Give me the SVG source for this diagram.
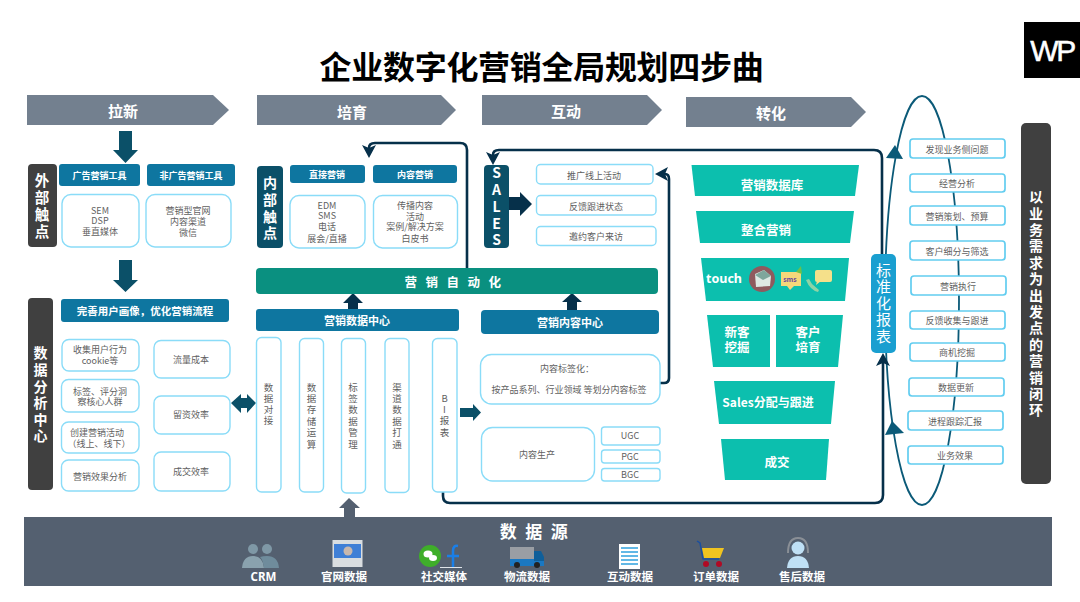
<svg xmlns="http://www.w3.org/2000/svg" width="1080" height="602" viewBox="0 0 1080 602">
<style>
text{font-family:"Noto Sans CJK SC","Noto Sans",sans-serif;text-anchor:middle;dominant-baseline:central}
.v{writing-mode:vertical-rl;text-orientation:upright}
.t{font-size:9px;fill:#5f5f5f}
.tv{font-size:9.5px;fill:#5f5f5f}
.w{fill:#fff;font-weight:700}
.hd{font-size:9px}
.box{fill:#fff;stroke:#8adcf8;stroke-width:1.4}
.lst{fill:#fff;stroke:#62cdf0;stroke-width:1.7}
.bl{fill:#0e76a0}
.gr{fill:#404040}
.nv{fill:#0b5068}
.fn{fill:#0cbfae}
.chev{fill:#73808f}
.ft{font-size:12.5px}
.ds{font-size:11.5px}
.conn{fill:none;stroke:#06304a;stroke-width:2.6}
.loop{fill:none;stroke:#0b5a78;stroke-width:1.8}
</style>
<defs>
<marker id="ah" markerUnits="userSpaceOnUse" markerWidth="18" markerHeight="18" refX="3" refY="7" orient="auto">
<path d="M0,0 L13,7 L0,14 L3,7 z" fill="#06304a"/>
</marker>
</defs>

<text id="title" x="541.5" y="65" font-size="32" font-weight="700" fill="#000" letter-spacing="-0.3">企业数字化营销全局规划四步曲</text>
<g id="logo"><rect x="1024" y="22" width="56" height="56" fill="#000"/><text x="1052" y="50" font-size="30" fill="#fff" stroke="#fff" stroke-width="0.5" style="font-family:'Liberation Sans',sans-serif" letter-spacing="-2.5">WP</text></g>

<g id="stage-laxin"><polygon class="chev" points="27,95 213,95 229,110 213,125 27,125"/><text class="w" x="123" y="110" font-size="15">拉新</text></g>
<g id="stage-peiyu"><polygon class="chev" points="257,95 441,95 456,110 441,125 257,125"/><text class="w" x="352" y="111" font-size="15">培育</text></g>
<g id="stage-hudong"><polygon class="chev" points="482,95 647,95 662,110 647,125 482,125"/><text class="w" x="566" y="110" font-size="15">互动</text></g>
<g id="stage-zhuanhua"><polygon class="chev" points="686,97 851,97 866,112 851,127 686,127"/><text class="w" x="771" y="112" font-size="15">转化</text></g>

<g id="connectors">
<ellipse class="loop" cx="922" cy="300.500" rx="37" ry="204.500"/>
<polygon points="895,145 903,159 886,158" fill="#0b5a78"/>
<polygon points="892,421 904,433 885,435" fill="#0b5a78"/>
<path class="conn" d="M467,268 V150 Q467,143 460,143 H375 Q369,143 369,148" marker-end="url(#ah)"/>
<path class="conn" d="M882,255 V158 Q882,150 874,150 H499 Q493,150 493,155" marker-end="url(#ah)"/>
<path class="conn" d="M660,383 H664 Q669,383 669,378 V179 Q669,174 665,174" marker-end="url(#ah)"/>
<path class="conn" d="M443,492 V496 Q443,503 450,503 H875 Q883,503 883,495 V363" marker-end="url(#ah)"/>
<polygon class="nv" points="119,131 132,131 132,150 138,150 125.500,163 113,150 119,150"/>
<polygon class="nv" points="119,260 132,260 132,280 138,280 125.500,292 113,280 119,280"/>
<polygon class="nv" points="231,403 241,394 241,398 247,398 247,394 256,403 247,413 247,408 241,408 241,413"/>
<polygon class="nv" points="460,408 473,408 473,404 481,412.500 473,421 473,417 460,417"/>
<polygon fill="#06304a" points="509,197 520,197 520,192 532,204 520,216 520,210 509,210"/>
<polygon fill="#06304a" points="348,309 348,303 343,303 353,293 363,303 358,303 358,309"/>
<polygon fill="#06304a" points="567,310 567,302 562,302 572,293 582,302 577,302 577,310"/>
<polygon fill="#546070" points="344,517 344,508 339,508 349,498 360,508 355,508 355,517"/>
</g>

<g id="outer"><rect class="gr" x="28" y="164" width="29" height="83" rx="4"/><text class="w v" font-size="14.500" letter-spacing="2.500" x="42" y="206.750">外部触点</text></g>
<g id="ad-tools"><rect class="bl" x="59" y="164" width="81" height="22" rx="3"/><text class="w hd" x="99.500" y="175">广告营销工具</text></g>
<g id="nonad-tools"><rect class="bl" x="147" y="164" width="88" height="22" rx="3"/><text class="w hd" x="191" y="175">非广告营销工具</text></g>
<g id="ad-list"><rect class="box" x="62" y="194.500" width="77" height="52.500" rx="9"/><text class="t"><tspan x="100" y="209.500">SEM</tspan><tspan x="100" y="220">DSP</tspan><tspan x="100" y="231">垂直媒体</tspan></text></g>
<g id="nonad-list"><rect class="box" x="146" y="194.500" width="85" height="52.500" rx="9"/><text class="t"><tspan x="188" y="210">营销型官网</tspan><tspan x="188" y="220.500">内容渠道</tspan><tspan x="188" y="231.500">微信</tspan></text></g>

<g id="data-center"><rect class="gr" x="28" y="298" width="25" height="192" rx="4"/><text class="w v" font-size="14" letter-spacing="2.600" x="40.500" y="395.800">数据分析中心</text></g>
<g id="portrait"><rect class="bl" x="61" y="299" width="168" height="23" rx="3"/><text class="w" font-size="10.500" x="145" y="310">完善用户画像，优化营销流程</text></g>
<g id="b-collect"><rect class="box" x="62" y="339.500" width="77" height="31.500" rx="7"/><text class="t"><tspan x="100" y="349">收集用户行为</tspan><tspan x="100" y="359.500">cookie等</tspan></text></g>
<g id="b-tag"><rect class="box" x="61.500" y="379.500" width="77.500" height="32.500" rx="7"/><text class="t"><tspan x="100" y="390.500">标签、评分洞</tspan><tspan x="100" y="401">察核心人群</tspan></text></g>
<g id="b-create"><rect class="box" x="61.500" y="422" width="77.500" height="31" rx="7"/><text class="t"><tspan x="97" y="432">创建营销活动</tspan><tspan x="99" y="442.500">（线上、线下）</tspan></text></g>
<g id="b-effect"><rect class="box" x="61.500" y="460" width="77.500" height="31" rx="7"/><text class="t" x="100" y="476">营销效果分析</text></g>
<g id="b-traffic"><rect class="box" x="154" y="340.500" width="76" height="37.500" rx="7"/><text class="t" x="191" y="359">流量成本</text></g>
<g id="b-lead"><rect class="box" x="154" y="396" width="76" height="38" rx="7"/><text class="t" x="191" y="414.500">留资效率</text></g>
<g id="b-deal"><rect class="box" x="154" y="452" width="76" height="39" rx="7"/><text class="t" x="191" y="471">成交效率</text></g>

<g id="inner"><rect class="nv" x="257" y="166" width="26" height="82" rx="4"/><text class="w v" font-size="14" letter-spacing="2.670" x="270" y="209.300">内部触点</text></g>
<g id="direct"><rect class="bl" x="290" y="165" width="75" height="18" rx="3"/><text class="w hd" x="327" y="174.500">直接营销</text></g>
<g id="content"><rect class="bl" x="373" y="165" width="84" height="18" rx="3"/><text class="w hd" x="415" y="174.500">内容营销</text></g>
<g id="direct-list"><rect class="box" x="290" y="195.500" width="75" height="52.500" rx="9"/><text class="t"><tspan x="327" y="204.500">EDM</tspan><tspan x="327" y="215">SMS</tspan><tspan x="327" y="226">电话</tspan><tspan x="327" y="238">展会/直播</tspan></text></g>
<g id="content-list"><rect class="box" x="373.500" y="195.500" width="84" height="52.500" rx="9"/><text class="t"><tspan x="415" y="205">传播内容</tspan><tspan x="415" y="216">活动</tspan><tspan x="415" y="226">案例/解决方案</tspan><tspan x="415" y="238">白皮书</tspan></text></g>
<g id="automation"><rect x="256" y="268" width="402" height="26" rx="4" fill="#0a9080"/><text class="w" font-size="12.500" x="457" y="281" letter-spacing="8.500">营销自动化</text></g>
<g id="data-hub"><rect class="bl" x="256" y="309" width="203" height="22" rx="3"/><text class="w" font-size="11" x="357" y="320">营销数据中心</text></g>
<g id="content-hub"><rect class="bl" x="481" y="310" width="178" height="24" rx="4"/><text class="w" font-size="11" x="570" y="322">营销内容中心</text></g>

<g id="col1"><rect class="box" x="256.500" y="337.500" width="24.500" height="154.500" rx="5"/><text class="tv v" letter-spacing="1.500" x="268.500" y="404.250">数据对接</text></g>
<g id="col2"><rect class="box" x="299.500" y="338.500" width="24" height="153.500" rx="5"/><text class="tv v" letter-spacing="1.900" x="311.500" y="416.500">数据存储运算</text></g>
<g id="col3"><rect class="box" x="341.500" y="338.500" width="24" height="154.500" rx="5"/><text class="tv v" letter-spacing="1.900" x="353" y="416.500">标签数据管理</text></g>
<g id="col4"><rect class="box" x="385" y="338.500" width="24" height="154" rx="5"/><text class="tv v" letter-spacing="1.900" x="397" y="416.500">渠道数据打通</text></g>
<g id="col5"><rect class="box" x="432.500" y="338.500" width="24.500" height="153.500" rx="5"/><text class="tv v" letter-spacing="1.800" x="444.500" y="416">BI报表</text></g>

<g id="sales"><rect class="nv" x="484" y="165" width="25" height="83" rx="4"/><text class="w v" font-size="14" letter-spacing="2.750" x="496.500" y="207.900">SALES</text></g>
<g id="s1"><rect class="box" x="536.500" y="164.500" width="116.500" height="19.500" rx="4"/><text class="t" x="594" y="175">推广线上活动</text></g>
<g id="s2"><rect class="box" x="536.500" y="195.500" width="119.500" height="19.500" rx="4"/><text class="t" x="596" y="206">反馈跟进状态</text></g>
<g id="s3"><rect class="box" x="536.500" y="226.500" width="119.500" height="19" rx="4"/><text class="t" x="596" y="236">邀约客户来访</text></g>
<g id="tagging"><rect class="box" x="480.500" y="354.500" width="179.500" height="49.500" rx="11"/><text class="t"><tspan x="567" y="368">内容标签化：</tspan><tspan x="569" y="389">按产品系列、行业领域 等划分内容标签</tspan></text></g>
<g id="production"><rect class="box" x="481.500" y="427.500" width="113" height="53.500" rx="11"/><text class="t" x="537" y="454">内容生产</text></g>
<g id="ugc"><rect class="box" x="601.500" y="427" width="58.500" height="18" rx="3"/><text class="t" x="630" y="435.500">UGC</text></g>
<g id="pgc"><rect class="box" x="601.500" y="450" width="58.500" height="13" rx="3"/><text class="t" x="630" y="456">PGC</text></g>
<g id="bgc"><rect class="box" x="601.500" y="468.500" width="58.500" height="12.500" rx="3"/><text class="t" x="630" y="474.500">BGC</text></g>

<g id="f1"><polygon class="fn" points="691.500,165 859,165 855,196 695,196"/><text class="w ft" x="772" y="184">营销数据库</text></g>
<g id="f2"><polygon class="fn" points="696,211 854,211 850,243 700,243"/><text class="w ft" x="766" y="229">整合营销</text></g>
<g id="f3"><polygon class="fn" points="701,258 849,258 845,301 706,301"/><text class="w" font-size="12.500" x="724" y="278" style="font-family:'Noto Sans',sans-serif">touch</text>
<circle cx="762" cy="279" r="13" fill="#8f5a5e"/><polygon points="755,274 764,270 771,276 770,286 756,287" fill="#dfe9e4"/><polygon points="755,275 763,280 771,276 764,270" fill="#7fa69c"/>
<path d="M781,272 H801 V286 H794 L790,290 L787,286 H781 z" fill="#f5d77a"/><polygon points="796,272 801,266 802,274" fill="#6cc04a"/><text x="790" y="279" font-size="7" font-weight="700" fill="#6b4a9a">sms</text>
<path d="M806,280 L809,279 L812,284 L819,290 L818,292 Q810,290 806,280 z" fill="#8fd3a5"/><rect x="815" y="270" width="17" height="12" rx="2" fill="#f5e08a"/><polygon points="817,281 821,281 816,285" fill="#f5e08a"/></g>
<g id="f4a"><polygon class="fn" points="707,315 770,315 770,367 713,367"/><text class="w ft"><tspan x="737" y="331">新客</tspan><tspan x="737" y="346">挖掘</tspan></text></g>
<g id="f4b"><polygon class="fn" points="776,315 843,315 838,367 776,367"/><text class="w ft"><tspan x="808" y="331">客户</tspan><tspan x="808" y="346">培育</tspan></text></g>
<g id="f5"><polygon class="fn" points="714,381 835,381 831,424 719,424"/><text class="w" font-size="12" x="768" y="401">Sales分配与跟进</text></g>
<g id="f6"><polygon class="fn" points="721,439 829,439 826,480 725,480"/><text class="w ft" x="777" y="461">成交</text></g>

<g id="report"><rect x="871" y="254" width="25" height="99" rx="5" fill="#1a9fd0"/><text class="v" font-size="15" fill="#fff" letter-spacing="1.500" x="883.500" y="303.750">标准化报表</text></g>

<g id="l1"><rect class="lst" x="910" y="139" width="95" height="19" rx="3"/><text class="t" x="957" y="149">发现业务侧问题</text></g>
<g id="l2"><rect class="lst" x="910" y="174" width="95" height="18" rx="3"/><text class="t" x="957" y="183.500">经营分析</text></g>
<g id="l3"><rect class="lst" x="910" y="206" width="95" height="19" rx="3"/><text class="t" x="957" y="216">营销策划、预算</text></g>
<g id="l4"><rect class="lst" x="910" y="241" width="95" height="19" rx="3"/><text class="t" x="957" y="251">客户细分与筛选</text></g>
<g id="l5"><rect class="lst" x="911" y="276" width="95" height="19" rx="3"/><text class="t" x="958" y="286">营销执行</text></g>
<g id="l6"><rect class="lst" x="910" y="311" width="95" height="18" rx="3"/><text class="t" x="957" y="320.500">反馈收集与跟进</text></g>
<g id="l7"><rect class="lst" x="910" y="343" width="95" height="18" rx="3"/><text class="t" x="957" y="352.500">商机挖掘</text></g>
<g id="l8"><rect class="lst" x="909" y="378" width="95" height="18" rx="3"/><text class="t" x="956" y="387.500">数据更新</text></g>
<g id="l9"><rect class="lst" x="908" y="411" width="95" height="19" rx="3"/><text class="t" x="955" y="421">进程跟踪汇报</text></g>
<g id="l10"><rect class="lst" x="908" y="446" width="95" height="18" rx="3"/><text class="t" x="955" y="455.500">业务效果</text></g>

<g id="closed-loop"><rect class="gr" x="1021" y="123" width="30" height="361" rx="5"/>
<text class="w v" font-size="14" letter-spacing="2.400" x="1036" y="304.700">以业务需求为出发点的营销闭环</text></g>

<g id="datasource"><rect x="24" y="517" width="1028" height="69" fill="#546070"/><text class="w" font-size="17" x="538" y="530" letter-spacing="8.500">数据源</text>
<g id="crm"><circle cx="253" cy="549" r="5" fill="#7f98a6"/><circle cx="267" cy="549" r="5" fill="#7f98a6"/><path d="M242,568 Q243,556 253,556 Q263,556 264,568 z" fill="#8aa2ae"/><path d="M264,568 Q263,560 260,557 Q263,556 267,556 Q278,556 279,568 z" fill="#6f8c9c"/><text class="w ds" x="263.500" y="576" style="font-family:'Noto Sans',sans-serif">CRM</text></g>
<g id="site"><rect x="332.500" y="540" width="30" height="27" fill="#d9dde0"/><rect x="334" y="544" width="27" height="14" fill="#3f7fd6"/><circle cx="348" cy="551" r="4.500" fill="#c9b8ad"/><text class="w ds" x="344" y="576">官网数据</text></g>
<g id="social"><circle cx="430" cy="556" r="11" fill="#3fae2a"/><ellipse cx="428" cy="554" rx="4.500" ry="3.500" fill="#fff"/><ellipse cx="433" cy="558" rx="4" ry="3" fill="#fff"/><path d="M458,546 Q453,545 453,551 V568 M447,556 H459" fill="none" stroke="#1a7fe8" stroke-width="2.500"/><path d="M440,567.500 H462" stroke="#dfe4ea" stroke-width="1"/><text class="w ds" x="444" y="576">社交媒体</text></g>
<g id="truck"><rect x="510" y="547" width="24" height="14" fill="#9a9ea4"/><rect x="510" y="559" width="34" height="7" fill="#1a78c2"/><path d="M534,551 H541 L544,557 V561 H534 z" fill="#0f5f9a"/><circle cx="517" cy="565" r="3" fill="#222"/><circle cx="537" cy="565" r="3" fill="#222"/><text class="w ds" x="527" y="576">物流数据</text></g>
<g id="doc"><rect x="619" y="544" width="21" height="25" fill="#fff"/><path d="M621,548 H638 M621,552 H638 M621,556 H638 M621,560 H638 M621,564 H638" stroke="#62b8e6" stroke-width="2"/><text class="w ds" x="630" y="576">互动数据</text></g>
<g id="cart"><path d="M697,541 L700,543 L703,559 H719" fill="none" stroke="#1a4fa0" stroke-width="1.500"/><polygon points="702,548 724,548 720,558 704,558" fill="#f0c420"/><circle cx="706" cy="564" r="3" fill="#b00a24"/><circle cx="719" cy="564" r="3" fill="#b00a24"/><text class="w ds" x="716" y="576">订单数据</text></g>
<g id="service"><path d="M788,553 Q788,538 798,538 Q808,538 808,553" fill="none" stroke="#8a8f96" stroke-width="2"/><circle cx="798" cy="548" r="6.500" fill="#bfe0f5"/><path d="M787,568 Q788,556 798,556 Q808,556 809,568 z" fill="#bfe0f5"/><text class="w ds" x="802" y="576">售后数据</text></g>
</g>
</svg>
